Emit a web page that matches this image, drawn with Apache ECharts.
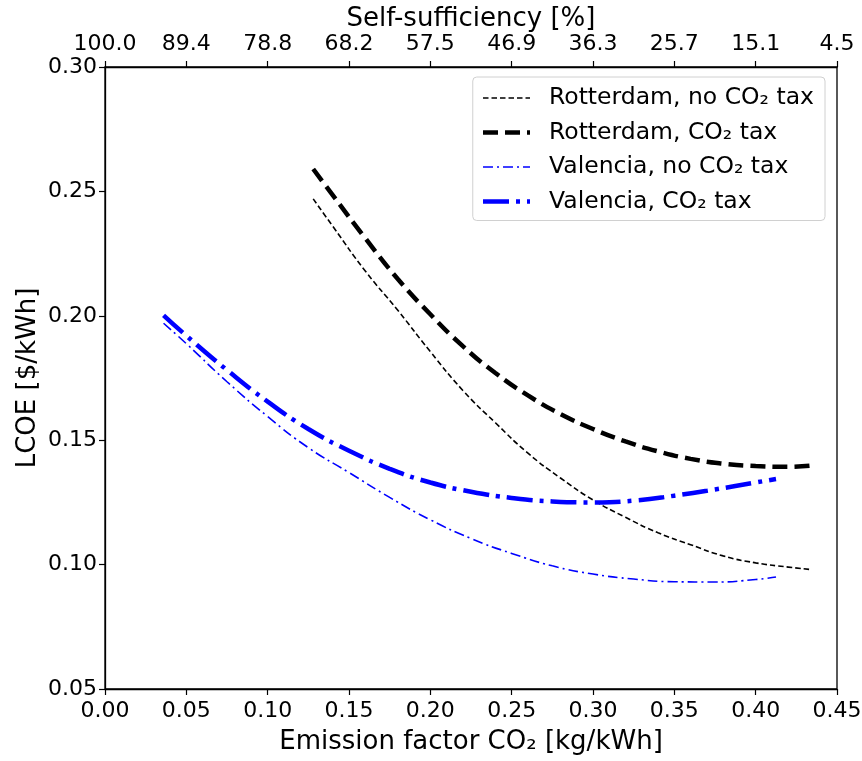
<!DOCTYPE html>
<html>
<head>
<meta charset="utf-8">
<script src="https://cdn.jsdelivr.net/npm/echarts@6/dist/echarts.min.js"></script>
<style>
html,body{margin:0;padding:0;background:#fff;}
#chart{width:862px;height:761px;}
</style>
</head>
<body>
<div id="chart"></div>
<script>
// ---- data ----
var seriesNames = ['Rotterdam, no CO\u2082 tax', 'Rotterdam, CO\u2082 tax', 'Valencia, no CO\u2082 tax', 'Valencia, CO\u2082 tax'];
var topTickLabels = ['100.0', '89.4', '78.8', '68.2', '57.5', '46.9', '36.3', '25.7', '15.1', '4.5'];

var rotNoTaxX = [0.128, 0.14, 0.16, 0.18, 0.20, 0.22, 0.24, 0.26, 0.28, 0.30, 0.32, 0.34, 0.36, 0.38, 0.40, 0.42, 0.434];
var rotNoTaxY = [0.247, 0.236, 0.218, 0.2022, 0.1856, 0.170, 0.157, 0.1448, 0.1348, 0.126, 0.119, 0.1128, 0.108, 0.1035, 0.1007, 0.099, 0.098];

var rotTaxX = [0.128, 0.14, 0.16, 0.18, 0.20, 0.22, 0.24, 0.26, 0.28, 0.30, 0.32, 0.34, 0.36, 0.38, 0.40, 0.42, 0.434];
var rotTaxY = [0.259, 0.2485, 0.2312, 0.2148, 0.2006, 0.1878, 0.177, 0.168, 0.1605, 0.1545, 0.1495, 0.1455, 0.1425, 0.1406, 0.1396, 0.1393, 0.1398];

var valNoTaxX = [0.036, 0.05, 0.075, 0.10, 0.125, 0.15, 0.175, 0.20, 0.225, 0.25, 0.275, 0.30, 0.325, 0.35, 0.375, 0.40, 0.4125];
var valNoTaxY = [0.197, 0.1888, 0.1735, 0.1595, 0.147, 0.137, 0.127, 0.118, 0.1105, 0.1045, 0.0995, 0.0962, 0.0942, 0.0931, 0.093, 0.094, 0.095];

var valTaxX = [0.036, 0.05, 0.075, 0.10, 0.125, 0.15, 0.175, 0.20, 0.225, 0.25, 0.275, 0.30, 0.325, 0.35, 0.375, 0.40, 0.4125];
var valTaxY = [0.2002, 0.192, 0.1782, 0.1655, 0.1545, 0.1458, 0.1385, 0.133, 0.1293, 0.1268, 0.1254, 0.125, 0.1257, 0.1277, 0.1302, 0.133, 0.1344];

function pairs(xs, ys) { return xs.map(function (x, i) { return [x, ys[i]]; }); }

var FONT = 'DejaVu Sans';
var chart = echarts.init(document.getElementById('chart'), null, {renderer: 'canvas'});

var axisCommon = {
  axisLine: {show: true, lineStyle: {color: '#000', width: 1.3}},
  axisTick: {show: true, inside: false, length: 6, lineStyle: {color: '#000', width: 1.2}},
  splitLine: {show: false},
  nameMoveOverlap: false
};

function lineSeries(i, xs, ys, color, width, dash) {
  return {
    name: seriesNames[i], type: 'line', data: pairs(xs, ys),
    smooth: 0.5, showSymbol: false, symbol: 'none',
    lineStyle: {color: color, width: width, type: dash, cap: 'butt'},
    itemStyle: {color: color}
  };
}

chart.setOption({
  animation: false,
  backgroundColor: '#fff',
  textStyle: {fontFamily: FONT},
  grid: {left: 105, right: 25, top: 67, bottom: 72, outerBoundsMode: 'none', containLabel: false,
    show: true, borderColor: '#000', borderWidth: 1.3, backgroundColor: 'transparent'},
  legend: {
    orient: 'vertical',
    right: 37, top: 77,
    itemWidth: 47, itemHeight: 14, itemGap: 10.5,
    padding: [9, 11, 7, 8],
    borderColor: '#d0d0d0', borderWidth: 1, borderRadius: 4,
    backgroundColor: '#fff',
    itemStyle: {opacity: 0},
    lineStyle: {width: 'inherit', type: 'inherit'},
    textStyle: {fontFamily: FONT, fontSize: 23.5, color: '#000', lineHeight: 23, padding: [0, 0, 0, 14]},
    data: seriesNames
  },
  xAxis: [
    Object.assign({}, axisCommon, {
      type: 'value', position: 'bottom', min: 0, max: 0.45, interval: 0.05,
      name: 'Emission factor CO\u2082 [kg/kWh]', nameLocation: 'middle', nameGap: 40,
      nameTextStyle: {fontFamily: FONT, fontSize: 26, color: '#000'},
      axisLabel: {fontFamily: FONT, fontSize: 22, color: '#000', margin: 11,
        formatter: function (v) { return v.toFixed(2); }}
    }),
    Object.assign({}, axisCommon, {
      type: 'value', position: 'top', min: 0, max: 0.45, interval: 0.05,
      name: 'Self-sufficiency [%]', nameLocation: 'middle', nameGap: 35,
      nameTextStyle: {fontFamily: FONT, fontSize: 26, color: '#000'},
      axisLabel: {fontFamily: FONT, fontSize: 22, color: '#000', margin: 12,
        formatter: function (v) { return topTickLabels[Math.round(v / 0.05)]; }}
    })
  ],
  yAxis: Object.assign({}, axisCommon, {
    type: 'value', min: 0.05, max: 0.30, interval: 0.05,
    name: 'LCOE [$/kWh]', nameLocation: 'middle', nameGap: 64, nameRotate: 90,
    nameTextStyle: {fontFamily: FONT, fontSize: 26, color: '#000'},
    axisLabel: {fontFamily: FONT, fontSize: 22, color: '#000', margin: 8,
      formatter: function (v) { return v.toFixed(2); }}
  }),
  series: [
    lineSeries(0, rotNoTaxX, rotNoTaxY, '#000', 1.6, [5.5, 3]),
    lineSeries(1, rotTaxX, rotTaxY, '#000', 4.5, [15, 7]),
    lineSeries(2, valNoTaxX, valNoTaxY, '#0000ff', 1.6, [10, 4, 2, 4]),
    lineSeries(3, valTaxX, valTaxY, '#0000ff', 4.5, [26, 7, 4, 7])
  ]
});
</script>
</body>
</html>
